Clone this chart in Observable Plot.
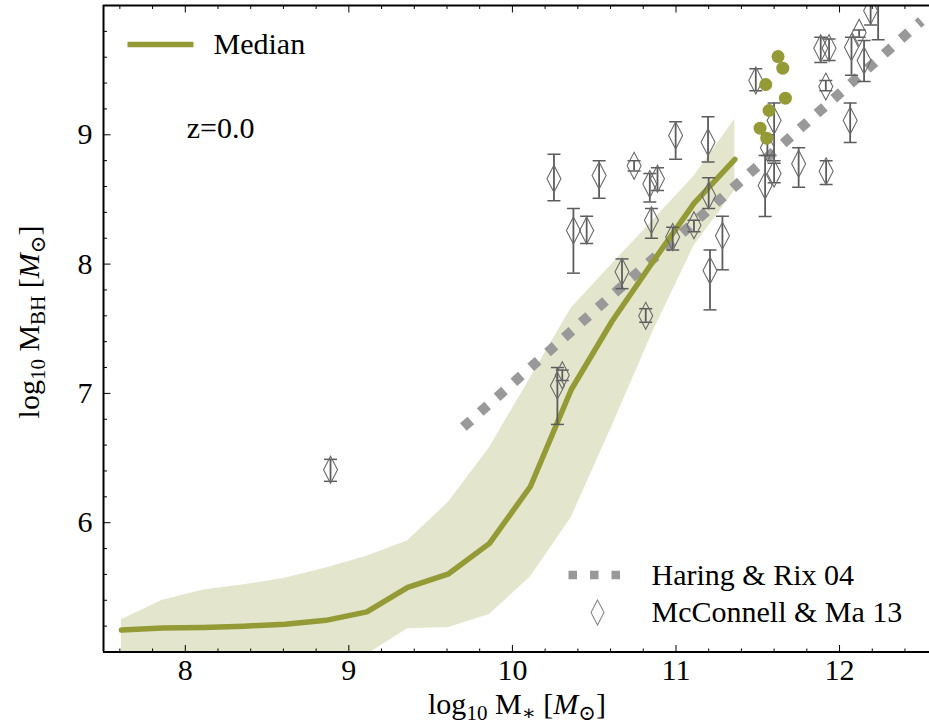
<!DOCTYPE html>
<html>
<head>
<meta charset="utf-8">
<script src="https://cdn.jsdelivr.net/npm/d3@7"></script>
<script src="https://cdn.jsdelivr.net/npm/@observablehq/plot@0.6"></script>
<style>
  html, body { margin: 0; padding: 0; background: #fff; }
  #chart svg { display: block; }
</style>
</head>
<body>
<div id="chart"></div>
<script>
// Median black-hole mass vs stellar mass (z = 0), with the 16–84% spread
const binMass   = [7.61, 7.86, 8.11, 8.36, 8.61, 8.86, 9.11, 9.36, 9.61, 9.86, 10.11, 10.36, 10.61, 10.86, 11.11, 11.36];
const medianBH  = [5.17, 5.185, 5.19, 5.20, 5.215, 5.245, 5.31, 5.50, 5.605, 5.84, 6.28, 7.03, 7.56, 8.02, 8.47, 8.81];
const upperBH   = [5.25, 5.40, 5.48, 5.52, 5.57, 5.65, 5.74, 5.86, 6.16, 6.58, 7.12, 7.66, 8.00, 8.34, 8.68, 9.12];
const lowerBH   = [4.50, 4.55, 4.60, 4.65, 4.70, 4.80, 4.98, 5.18, 5.19, 5.29, 5.58, 6.04, 6.75, 7.48, 8.14, 8.57];

// Individual massive galaxies
const galMass = [11.624, 11.653, 11.549, 11.669, 11.569, 11.514, 11.555];
const galBH   = [9.605, 9.515, 9.389, 9.283, 9.188, 9.051, 8.974];

// Haring & Rix (2004) relation, end points
const hrMass = [9.70, 12.50];
const hrBH   = [6.74, 9.88];

// McConnell & Ma (2013) observed galaxies: bulge mass, BH mass, error range
const mmMass = [8.888, 10.254, 10.373, 10.454, 10.530, 10.744, 10.840, 10.887, 10.850, 10.998,
                11.196, 11.200, 11.110, 10.980, 11.284, 11.208, 10.670, 10.815, 10.275, 10.305,
                11.488, 11.600, 11.559, 11.600, 11.545, 11.750, 11.918, 11.885, 11.936, 11.916,
                12.065, 12.073, 12.120, 12.150, 12.190, 12.236];
const mmBH   = [6.41, 8.66, 8.26, 8.26, 8.685, 8.76, 8.62, 8.66, 8.34, 8.995,
                8.943, 8.53, 8.30, 8.21, 8.22, 7.95, 7.94, 7.60, 7.06, 7.14,
                9.42, 9.11, 8.90, 8.70, 8.608, 8.776, 8.718, 9.67, 9.67, 9.373,
                9.11, 9.677, 9.79, 9.575, 9.96, 10.12];
const mmLo   = [6.32, 8.49, 7.93, 8.16, 8.51, 8.72, 8.48, 8.57, 8.20, 8.81,
                8.79, 8.43, 8.25, 8.11, 7.956, 7.646, 7.81, 7.55, 6.76, 7.10,
                9.34, 8.80, 8.84, 8.63, 8.368, 8.595, 8.615, 9.56, 9.575, 9.34,
                8.94, 9.46, 9.755, 9.412, 9.85, 9.735];
const mmHi   = [6.49, 8.85, 8.43, 8.37, 8.80, 8.80, 8.70, 8.745, 8.43, 9.10,
                9.14, 8.667, 8.34, 8.285, 8.37, 8.11, 8.04, 7.655, 7.20, 7.18,
                9.51, 9.245, 9.00, 8.78, 8.84, 8.90, 8.80, 9.755, 9.74, 9.42,
                9.245, 9.755, 9.81, 9.73, 10.07, 10.50];

// Axis tick labels
const xTickLabels = [8, 9, 10, 11, 12];
const yTickLabels = [6, 7, 8, 9];

const band   = binMass.map((x, i) => ({x, lo: lowerBH[i], hi: upperBH[i]}));
const median = binMass.map((x, i) => ({x, y: medianBH[i]}));
const gals   = galMass.map((x, i) => ({x, y: galBH[i]}));
const hr     = hrMass.map((x, i) => ({x, y: hrBH[i]}));
const mm     = mmMass.map((x, i) => ({x, y: mmBH[i], lo: mmLo[i], hi: mmHi[i]}));

const OLIVE = "#949a35";
const BAND  = "#e4e5cd";
const FONT  = "'Liberation Serif', 'DejaVu Serif', serif";

// custom path symbols
const seg = (dx, dy) => ({draw(ctx) { ctx.moveTo(0, 0); ctx.lineTo(dx, dy); }});
const hseg = (w) => ({draw(ctx) { ctx.moveTo(-w, 0); ctx.lineTo(w, 0); }});
const thinDiamond = (w, h) => ({draw(ctx) {
  ctx.moveTo(0, -h); ctx.lineTo(w, 0); ctx.lineTo(0, h); ctx.lineTo(-w, 0); ctx.closePath();
}});

const minorX = d3.range(76, 126, 2).map(v => v / 10).filter(v => !xTickLabels.includes(v));
const minorY = d3.range(50, 101, 2).map(v => v / 10).filter(v => !Number.isInteger(v));
const majorY = [5, 6, 7, 8, 9, 10];

const chart = Plot.plot({
  width: 929,
  height: 727,
  marginLeft: 103,
  marginRight: 0,
  marginTop: 5,
  marginBottom: 75.5,
  style: {fontFamily: FONT, fontSize: "30px", background: "#fff", overflow: "hidden", color: "#000"},
  x: {domain: [7.5, 12.55], label: null},
  y: {domain: [5, 10], label: null},
  marks: [
    Plot.areaY(band, {x: "x", y1: "lo", y2: "hi", fill: BAND, clip: true}),
    Plot.line(hr, {x: "x", y: "y", stroke: "#999999", strokeWidth: 10, strokeDasharray: "10,12.5", strokeLinecap: "butt", clip: true}),
    Plot.line(median, {x: "x", y: "y", stroke: OLIVE, strokeWidth: 5.5}),
    Plot.ruleX(mm, {x: "x", y1: "lo", y2: "hi", stroke: "#5c5c5c", strokeWidth: 1.8, clip: true}),
    Plot.dot(mm, {x: "x", y: "lo", symbol: hseg(6.5), stroke: "#5c5c5c", fill: "none", strokeWidth: 1.5, clip: true}),
    Plot.dot(mm, {x: "x", y: "hi", symbol: hseg(6.5), stroke: "#5c5c5c", fill: "none", strokeWidth: 1.5, clip: true}),
    Plot.dot(mm, {x: "x", y: "y", symbol: thinDiamond(7, 13.5), stroke: "#6a6a6a", fill: "none", strokeWidth: 1.1, clip: true}),
    Plot.dot(gals, {x: "x", y: "y", r: 6.5, fill: OLIVE, stroke: "none"}),

    // spines
    Plot.ruleY([5], {stroke: "#000", strokeWidth: 2}),
    Plot.ruleY([10], {stroke: "#000", strokeWidth: 2}),
    Plot.ruleX([7.5], {stroke: "#000", strokeWidth: 2}),

    // inward tick marks
    Plot.dot(xTickLabels, {x: d => d, frameAnchor: "bottom", symbol: seg(0, -7), stroke: "#000", fill: "none", strokeWidth: 1}),
    Plot.dot(minorX, {x: d => d, frameAnchor: "bottom", symbol: seg(0, -3.5), stroke: "#000", fill: "none", strokeWidth: 1}),
    Plot.dot(xTickLabels, {x: d => d, frameAnchor: "top", symbol: seg(0, 7), stroke: "#000", fill: "none", strokeWidth: 1}),
    Plot.dot(minorX, {x: d => d, frameAnchor: "top", symbol: seg(0, 3.5), stroke: "#000", fill: "none", strokeWidth: 1}),
    Plot.dot(majorY, {y: d => d, frameAnchor: "left", symbol: seg(7, 0), stroke: "#000", fill: "none", strokeWidth: 1}),
    Plot.dot(minorY, {y: d => d, frameAnchor: "left", symbol: seg(3.5, 0), stroke: "#000", fill: "none", strokeWidth: 1}),

    Plot.axisX({ticks: xTickLabels, tickSize: 0, tickPadding: 7, fontSize: 30, label: null, tickFormat: d => String(d)}),
    Plot.axisY({ticks: yTickLabels, tickSize: 0, tickPadding: 11, fontSize: 30, label: null, tickFormat: d => String(d)}),

    // legend and annotation
    Plot.dot([0], {frameAnchor: "top-left", dx: 57, dy: 39, symbol: hseg(33), stroke: OLIVE, strokeWidth: 5.5, fill: "none"}),
    Plot.text(["Median"], {frameAnchor: "top-left", dx: 110, dy: 39, text: d => d, textAnchor: "start", lineAnchor: "middle", fontSize: 30}),
    Plot.text(["z=0.0"], {frameAnchor: "top-left", dx: 117, dy: 123, text: d => d, textAnchor: "middle", lineAnchor: "middle", fontSize: 30}),
    Plot.dot([0], {frameAnchor: "bottom-left", dx: 491, dy: -77, symbol: hseg(26), stroke: "#999999", strokeWidth: 8.5, strokeDasharray: "8.5,13", fill: "none"}),
    Plot.text(["Haring & Rix 04"], {frameAnchor: "bottom-left", dx: 548, dy: -77, text: d => d, textAnchor: "start", lineAnchor: "middle", fontSize: 30}),
    Plot.dot([0], {frameAnchor: "bottom-left", dx: 494, dy: -39.5, symbol: thinDiamond(6.5, 12.5), stroke: "#8a8a8a", fill: "none", strokeWidth: 1.1}),
    Plot.text(["McConnell & Ma 13"], {frameAnchor: "bottom-left", dx: 548, dy: -39.5, text: d => d, textAnchor: "start", lineAnchor: "middle", fontSize: 30})
  ]
});

document.getElementById("chart").appendChild(chart);

// Axis titles with sub-scripts
const svg = d3.select(chart);
const xt = svg.append("text")
  .attr("x", 517).attr("y", 714)
  .attr("text-anchor", "middle")
  .attr("font-family", FONT).attr("font-size", 30).attr("fill", "#000");
xt.append("tspan").text("log");
xt.append("tspan").attr("font-size", 21).attr("dy", 6).text("10");
xt.append("tspan").attr("dy", -6).text(" M");
xt.append("tspan").attr("font-size", 21).attr("dy", 6).text("∗");
xt.append("tspan").attr("dy", -6).text(" [");
xt.append("tspan").attr("font-style", "italic").text("M");
xt.append("tspan").attr("font-size", 21).attr("dy", 6).text("⊙");
xt.append("tspan").attr("dy", -6).text("]");

const yt = svg.append("text")
  .attr("transform", "translate(39,322) rotate(-90)")
  .attr("text-anchor", "middle")
  .attr("font-family", FONT).attr("font-size", 30).attr("fill", "#000");
yt.append("tspan").text("log");
yt.append("tspan").attr("font-size", 21).attr("dy", 6).text("10");
yt.append("tspan").attr("dy", -6).text(" M");
yt.append("tspan").attr("font-size", 21).attr("dy", 6).text("BH");
yt.append("tspan").attr("dy", -6).text(" [");
yt.append("tspan").attr("font-style", "italic").text("M");
yt.append("tspan").attr("font-size", 21).attr("dy", 6).text("⊙");
yt.append("tspan").attr("dy", -6).text("]");
</script>
</body>
</html>
